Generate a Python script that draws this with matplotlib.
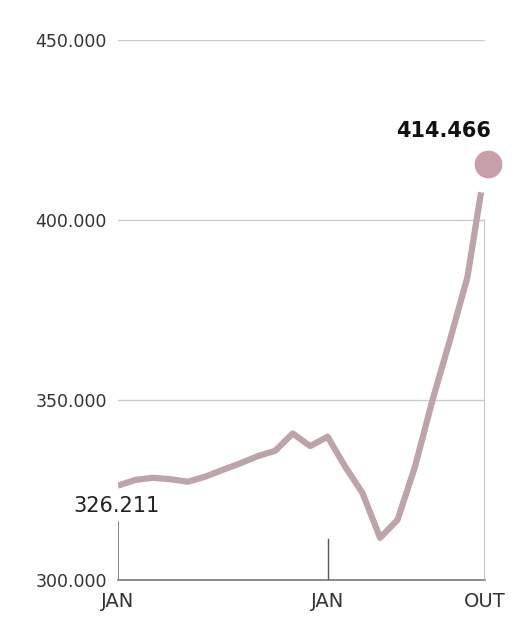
import numpy as np
import matplotlib.pyplot as plt

# monthly values, Jan (year 1) .. Oct (year 2), in thousands
months = np.arange(22)
values = [326.211, 327.8, 328.4, 328.0, 327.3, 328.7, 330.6, 332.4, 334.4, 335.9,
          340.7, 337.2, 339.8, 331.5, 324.1, 311.7, 316.7, 331.5, 350.0, 366.7,
          384.2, 414.466]
xtick_pos = [0, 12, 21]
xtick_labels = ["JAN", "JAN", "OUT"]
yticks = [300, 350, 400, 450]

line_col = "#bda4a8"
dot_col = "#c99faa"

fig = plt.figure(figsize=(5.17, 6.27), dpi=100)
ax = fig.add_axes([0.228, 0.075, 0.71, 0.861])
ax.set_xlim(0, 21)
ax.set_ylim(300, 450)

for s in ax.spines.values():
    s.set_visible(False)

for y in yticks[1:]:
    ax.axhline(y, color="#cccccc", lw=1, zorder=1)
ax.axhline(300, color="#777777", lw=1.2, zorder=2, clip_on=False)

# connector lines
ax.plot([0, 0], [300, 316], color="#777777", lw=1.2, zorder=2)
ax.plot([12, 12], [300, 311.5], color="#555555", lw=1, zorder=2)
ax.plot([21, 21], [300, 400], color="#bbbbbb", lw=1.2, zorder=2)

ax.plot(months, values, color=line_col, lw=4.5, solid_capstyle="butt", zorder=3)
# white ring leaves a gap between line end and the highlight dot
ax.plot(months[-1], values[-1], "o", ms=34, color="white", zorder=4, clip_on=False)
ax.plot(months[-1] + 0.15, values[-1] + 1.2, "o", ms=19, color=dot_col, zorder=5,
        clip_on=False)

ax.text(months[-1] + 0.35, values[-1] + 7.5, "414.466", ha="right", va="bottom",
        fontsize=15, fontweight="heavy", color="#111111", zorder=6)
ax.text(-0.1, values[0] - 3.0, "326.211", ha="center", va="top",
        fontsize=15, fontweight="medium", color="#222222", zorder=6)

ax.set_yticks(yticks)
ax.set_yticklabels(["%d.000" % v for v in yticks], fontsize=12.5, color="#333333")
ax.set_xticks(xtick_pos)
ax.set_xticklabels(xtick_labels, fontsize=14, color="#333333")
ax.tick_params(axis="y", length=0, pad=8)
ax.tick_params(axis="x", length=0, pad=9)

fig.savefig("out.png", dpi=100, facecolor="white")
